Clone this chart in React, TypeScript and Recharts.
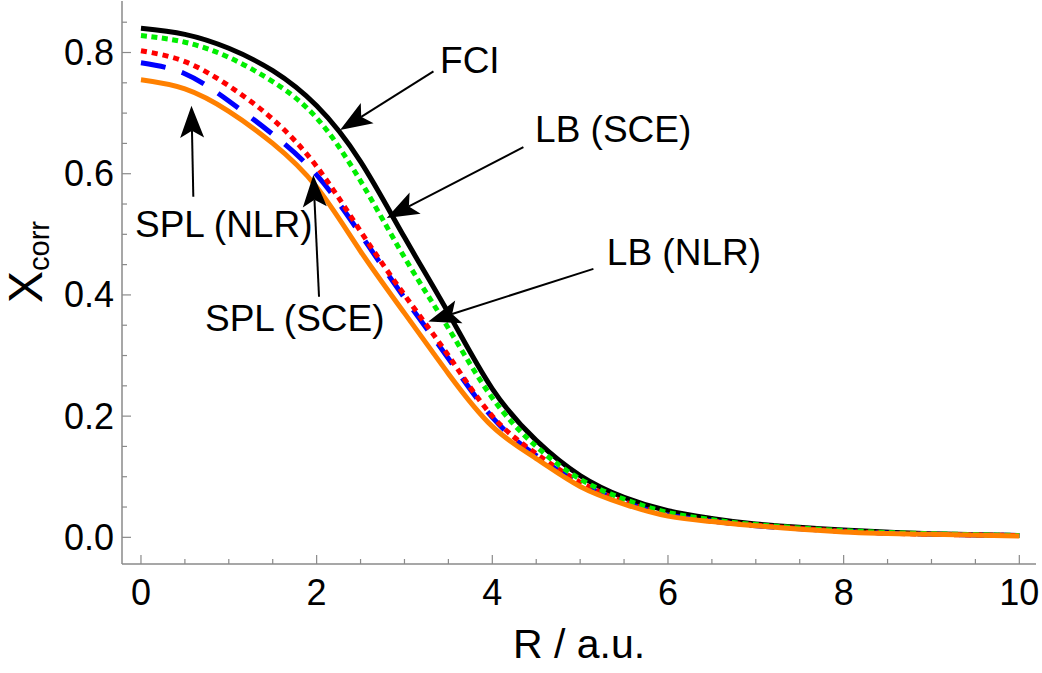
import { LineChart, Line, XAxis, YAxis, ReferenceLine, ReferenceDot } from "recharts";

// R / a.u.
const rValues = [0, 0.5, 1, 1.5, 2, 2.5, 3, 3.5, 4, 4.5, 5, 5.5, 6, 6.5, 7, 8, 9, 10];
// X_corr for each method
const fci = [0.84, 0.83, 0.807, 0.77, 0.712, 0.62, 0.495, 0.37, 0.245, 0.16, 0.102, 0.066, 0.044, 0.031, 0.022, 0.012, 0.006, 0.003];
const lbSce = [0.828, 0.817, 0.792, 0.752, 0.692, 0.588, 0.462, 0.345, 0.23, 0.15, 0.096, 0.063, 0.041, 0.029, 0.021, 0.011, 0.006, 0.003];
const lbNlr = [0.803, 0.785, 0.745, 0.69, 0.612, 0.505, 0.4, 0.3, 0.2, 0.138, 0.091, 0.059, 0.038, 0.027, 0.02, 0.01, 0.005, 0.003];
const splSce = [0.783, 0.765, 0.72, 0.665, 0.598, 0.5, 0.395, 0.295, 0.198, 0.135, 0.089, 0.058, 0.037, 0.027, 0.019, 0.01, 0.005, 0.003];
const splNlr = [0.755, 0.74, 0.703, 0.65, 0.578, 0.472, 0.37, 0.27, 0.183, 0.13, 0.084, 0.055, 0.035, 0.026, 0.019, 0.009, 0.005, 0.002];

const xTicks = [0, 0.5, 1, 1.5, 2, 2.5, 3, 3.5, 4, 4.5, 5, 5.5, 6, 6.5, 7, 7.5, 8, 8.5, 9, 9.5, 10];
const yTicks = [0, 0.05, 0.1, 0.15, 0.2, 0.25, 0.3, 0.35, 0.4, 0.45, 0.5, 0.55, 0.6, 0.65, 0.7, 0.75, 0.8, 0.85];

// annotation arrows: tail (R, X) -> tip (R, X)
const arrows = [
  { from: [3.33, 0.769], to: [2.267, 0.672] },
  { from: [4.354, 0.644], to: [2.798, 0.527] },
  { from: [5.151, 0.443], to: [3.272, 0.356] },
  { from: [0.596, 0.562], to: [0.575, 0.712] },
  { from: [2.027, 0.397], to: [1.962, 0.598] },
];
const labels = [
  { text: "FCI", at: [3.405, 0.766] },
  { text: "LB (SCE)", at: [4.487, 0.653] },
  { text: "LB (NLR)", at: [5.304, 0.45] },
  { text: "SPL (NLR)", at: [-0.068, 0.496] },
  { text: "SPL (SCE)", at: [0.729, 0.34] },
];

const data = rValues.map((r, i) => ({
  r,
  fci: fci[i],
  lbSce: lbSce[i],
  lbNlr: lbNlr[i],
  splSce: splSce[i],
  splNlr: splNlr[i],
}));

const GRAY = "#8a8a8a";
const FONT = '"Liberation Sans", Arial, Helvetica, sans-serif';
const isMajor = (v: number, step: number) => Math.abs(v / step - Math.round(v / step)) < 1e-6;

const BottomTick = ({ x, y, payload }: any) => {
  const major = isMajor(payload.value, 2);
  return (
    <g>
      <line x1={x} y1={y} x2={x} y2={y - (major ? 9 : 5)} stroke={GRAY} strokeWidth={1.2} />
      {major && (
        <text x={x} y={y + 41} textAnchor="middle" fontSize={36} fill="#000" fontFamily={FONT}>
          {payload.value}
        </text>
      )}
    </g>
  );
};

const TopTick = ({ x, y, payload }: any) => {
  const major = isMajor(payload.value, 2);
  return <line x1={x} y1={y} x2={x} y2={y + (major ? 9 : 5)} stroke={GRAY} strokeWidth={1.2} />;
};

const LeftTick = ({ x, y, payload }: any) => {
  const major = isMajor(payload.value, 0.2);
  return (
    <g>
      <line x1={x} y1={y} x2={x + (major ? 9 : 5)} y2={y} stroke={GRAY} strokeWidth={1.2} />
      {major && (
        <text x={x - 8} y={y + 12.5} textAnchor="end" fontSize={36} fill="#000" fontFamily={FONT}>
          {payload.value.toFixed(1)}
        </text>
      )}
    </g>
  );
};

const RightTick = ({ x, y, payload }: any) => {
  const major = isMajor(payload.value, 0.2);
  return <line x1={x} y1={y} x2={x - (major ? 9 : 5)} y2={y} stroke={GRAY} strokeWidth={1.2} />;
};

const Arrow = ({ x1, y1, x2, y2 }: any) => {
  const dx = x2 - x1;
  const dy = y2 - y1;
  const len = Math.hypot(dx, dy);
  const ux = dx / len;
  const uy = dy / len;
  const hl = 32;
  const hw = 12;
  const bx = x2 - ux * hl;
  const by = y2 - uy * hl;
  const nx = x2 - ux * hl * 0.78;
  const ny = y2 - uy * hl * 0.78;
  const pts = `${x2},${y2} ${bx - uy * hw},${by + ux * hw} ${nx},${ny} ${bx + uy * hw},${by - ux * hw}`;
  return (
    <g>
      <line x1={x1} y1={y1} x2={nx} y2={ny} stroke="#000" strokeWidth={2} />
      <polygon points={pts} fill="#000" />
    </g>
  );
};

const XTitle = ({ viewBox }: any) => (
  <text x={viewBox.x + viewBox.width / 2} y={658} textAnchor="middle" fontSize={41} fill="#000" fontFamily={FONT}>
    R / a.u.
  </text>
);

const YTitle = () => (
  <text x={42} y={262} transform="rotate(-90, 42, 262)" textAnchor="middle" fontSize={48} fill="#000" fontFamily={FONT}>
    X
    <tspan fontSize={29} dy={7}>
      corr
    </tspan>
  </text>
);

export default function App() {
  const xDomain = [-0.216, 10.19];
  const yDomain = [-0.044, 0.885];
  return (
    <div style={{ position: "absolute", left: 0, top: 0, width: 1042, height: 673, background: "#fff" }}>
      <LineChart width={1042} height={673} data={data} margin={{ top: 1, right: 6, bottom: 0, left: 0 }}>
        <XAxis
          xAxisId="b"
          dataKey="r"
          type="number"
          domain={xDomain}
          allowDataOverflow
          ticks={xTicks}
          interval={0}
          tickSize={0}
          tickMargin={0}
          tickLine={false}
          tick={<BottomTick />}
          axisLine={{ stroke: GRAY, strokeWidth: 1.5 }}
          height={109}
          label={<XTitle />}
        />
        <XAxis
          xAxisId="t"
          orientation="top"
          type="number"
          dataKey="r"
          domain={xDomain}
          allowDataOverflow
          ticks={xTicks}
          interval={0}
          tickSize={0}
          tickMargin={0}
          tickLine={false}
          tick={<TopTick />}
          axisLine={{ stroke: GRAY, strokeWidth: 1.5 }}
          height={0}
        />
        <YAxis
          yAxisId="l"
          type="number"
          domain={yDomain}
          allowDataOverflow
          ticks={yTicks}
          interval={0}
          tickSize={0}
          tickMargin={0}
          tickLine={false}
          tick={<LeftTick />}
          axisLine={{ stroke: GRAY, strokeWidth: 1.5 }}
          width={122}
          label={<YTitle />}
        />
        <YAxis
          yAxisId="r"
          orientation="right"
          type="number"
          domain={yDomain}
          allowDataOverflow
          ticks={yTicks}
          interval={0}
          tickSize={0}
          tickMargin={0}
          tickLine={false}
          tick={<RightTick />}
          axisLine={{ stroke: GRAY, strokeWidth: 1.5 }}
          width={0}
        />
        <Line xAxisId="b" yAxisId="l" type="natural" dataKey="fci" stroke="#000" strokeWidth={5} dot={false} isAnimationActive={false} />
        <Line xAxisId="b" yAxisId="l" type="natural" dataKey="splSce" stroke="#0000ff" strokeWidth={5} strokeDasharray="25 17" dot={false} isAnimationActive={false} />
        <Line xAxisId="b" yAxisId="l" type="natural" dataKey="lbNlr" stroke="#ff0000" strokeWidth={5} strokeDasharray="6 5" dot={false} isAnimationActive={false} />
        <Line xAxisId="b" yAxisId="l" type="natural" dataKey="lbSce" stroke="#00ee00" strokeWidth={5} strokeDasharray="6 4.5" dot={false} isAnimationActive={false} />
        <Line xAxisId="b" yAxisId="l" type="natural" dataKey="splNlr" stroke="#ff8000" strokeWidth={5} dot={false} isAnimationActive={false} />
        {arrows.map((a, i) => (
          <ReferenceLine
            key={"a" + i}
            xAxisId="b"
            yAxisId="l"
            segment={[
              { x: a.from[0], y: a.from[1] },
              { x: a.to[0], y: a.to[1] },
            ]}
            shape={<Arrow />}
          />
        ))}
        {labels.map((l, i) => (
          <ReferenceDot
            key={"l" + i}
            xAxisId="b"
            yAxisId="l"
            x={l.at[0]}
            y={l.at[1]}
            shape={(p: any) => (
              <text x={p.cx} y={p.cy} fontSize={37} fill="#000" fontFamily={FONT}>
                {l.text}
              </text>
            )}
          />
        ))}
      </LineChart>
    </div>
  );
}
